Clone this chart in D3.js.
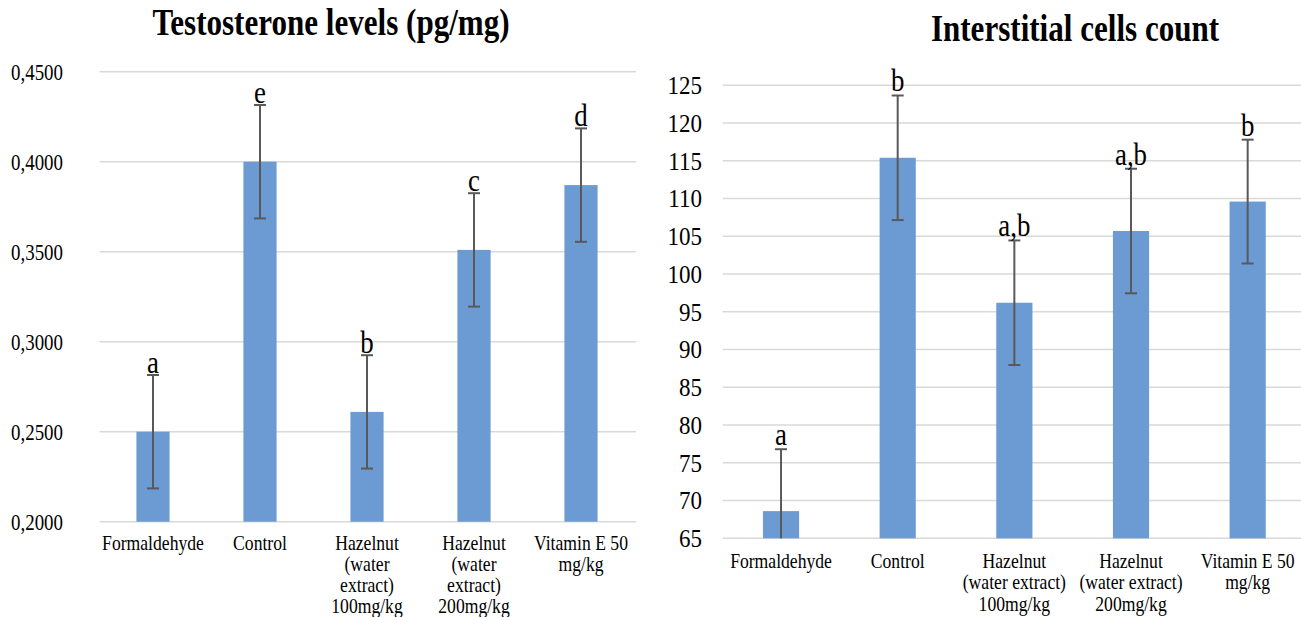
<!DOCTYPE html>
<html>
<head>
<meta charset="utf-8">
<script src="https://cdn.jsdelivr.net/npm/d3@7"></script>
<style>
  body { margin: 0; background: #fff; }
</style>
</head>
<body>
<div id="chart"></div>
<script>
// data
var groups = ["Formaldehyde", "Control", "Hazelnut (water extract) 100mg/kg", "Hazelnut (water extract) 200mg/kg", "Vitamin E 50 mg/kg"];

var testoLabels = [["Formaldehyde"], ["Control"], ["Hazelnut", "(water", "extract)", "100mg/kg"], ["Hazelnut", "(water", "extract)", "200mg/kg"], ["Vitamin E 50", "mg/kg"]];
var testoValues = [0.250, 0.400, 0.261, 0.351, 0.387];
var testoErrors = [0.0315, 0.0315, 0.0315, 0.0315, 0.0315];
var testoLetters = ["a", "e", "b", "c", "d"];
var testoTicks = [0.20, 0.25, 0.30, 0.35, 0.40, 0.45];

var cellLabels = [["Formaldehyde"], ["Control"], ["Hazelnut", "(water extract)", "100mg/kg"], ["Hazelnut", "(water extract)", "200mg/kg"], ["Vitamin E 50", "mg/kg"]];
var cellValues = [68.6, 115.4, 96.2, 105.7, 109.6];
var cellErrors = [8.2, 8.25, 8.25, 8.25, 8.2];
var cellLetters = ["a", "b", "a,b", "a,b", "b"];
var cellTicks = [65, 70, 75, 80, 85, 90, 95, 100, 105, 110, 115, 120, 125];

var width = 1301,
    height = 617;

// the text in the picture is a bit narrow, so squeeze it horizontally
var SX = 0.84;
var FONT = "'Liberation Serif', 'Times New Roman', serif";

var svg = d3.select("#chart").append("svg")
    .attr("width", width)
    .attr("height", height);

var fmtComma = function(d){ return d3.format(".4f")(d).replace(".", ","); };

function place(sel, fx, fy, sx) {
    sel.attr("transform", function(d, i){
        return "translate(" + fx(d, i) + "," + fy(d, i) + ") scale(" + sx + ",1)";
    })
    .attr("font-family", FONT)
    .attr("fill", "#000");
}

function drawChart(opt) {
    var g = svg.append("g");

    var x = d3.scaleBand()
        .domain(groups)
        .range([opt.x0, opt.x1])
        .paddingInner(0.69)
        .paddingOuter(0.345);

    var y = d3.scaleLinear()
        .domain(opt.domain)
        .range([opt.y0, opt.y1]);

    // gridlines
    g.selectAll(".grid")
        .data(opt.ticks)
        .enter().append("line")
        .attr("x1", opt.x0)
        .attr("x2", opt.gridEnd)
        .attr("y1", function(d){ return y(d); })
        .attr("y2", function(d){ return y(d); })
        .style("stroke", "#d9d9d9")
        .style("stroke-width", 1.6);

    // y tick labels
    g.selectAll(".ytick")
        .data(opt.ticks)
        .enter().append("text")
        .attr("dy", "0.35em")
        .attr("text-anchor", "end")
        .style("font-size", opt.tickSize + "px")
        .text(opt.tickFormat)
        .call(place, function(){ return opt.tickX; }, function(d){ return y(d); }, opt.tickSX || SX);

    var rows = groups.map(function(k, i){
        return { key: k, v: opt.values[i], e: opt.errors[i], letter: opt.letters[i], lab: opt.labels[i] };
    });

    // bars
    g.selectAll(".bar")
        .data(rows)
        .enter().append("rect")
        .attr("x", function(d){ return x(d.key); })
        .attr("width", x.bandwidth())
        .attr("y", function(d){ return y(d.v); })
        .attr("height", function(d){ return y(opt.domain[0]) - y(d.v); })
        .attr("fill", "#6b9bd2");

    // error bars
    var cx = function(d){ return x(d.key) + x.bandwidth() / 2; };
    var lo = function(d){ return y(Math.max(d.v - d.e, opt.domain[0])); };
    var hi = function(d){ return y(d.v + d.e); };

    g.selectAll(".err")
        .data(rows)
        .enter().append("line")
        .attr("x1", cx).attr("x2", cx)
        .attr("y1", lo).attr("y2", hi)
        .style("stroke", "#595959")
        .style("stroke-width", 2);

    g.selectAll(".capTop")
        .data(rows)
        .enter().append("line")
        .attr("x1", function(d){ return cx(d) - 6; })
        .attr("x2", function(d){ return cx(d) + 6; })
        .attr("y1", hi).attr("y2", hi)
        .style("stroke", "#595959")
        .style("stroke-width", 2);

    g.selectAll(".capBot")
        .data(rows.filter(function(d){ return d.v - d.e > opt.domain[0]; }))
        .enter().append("line")
        .attr("x1", function(d){ return cx(d) - 6; })
        .attr("x2", function(d){ return cx(d) + 6; })
        .attr("y1", lo).attr("y2", lo)
        .style("stroke", "#595959")
        .style("stroke-width", 2);

    // significance letters
    g.selectAll(".letter")
        .data(rows)
        .enter().append("text")
        .attr("text-anchor", "middle")
        .style("font-size", opt.letterSize + "px")
        .text(function(d){ return d.letter; })
        .call(place, cx, function(d){ return hi(d) - opt.letterGap; }, SX);

    // category labels
    var cat = g.selectAll(".cat")
        .data(rows)
        .enter().append("text")
        .attr("text-anchor", "middle")
        .style("font-size", opt.catSize + "px")
        .call(place, cx, function(){ return opt.catY; }, SX);

    cat.selectAll("tspan")
        .data(function(d){ return d.lab; })
        .enter().append("tspan")
        .attr("x", 0)
        .attr("y", function(d, i){ return i * opt.lineH; })
        .text(function(d){ return d; });

    // title
    g.append("text")
        .attr("text-anchor", "middle")
        .style("font-size", "37px")
        .style("font-weight", "bold")
        .text(opt.title)
        .call(place, function(){ return opt.titleX; }, function(){ return opt.titleY; }, SX);
}

drawChart({
    title: "Testosterone levels (pg/mg)",
    titleX: 331, titleY: 35,
    x0: 99.5, x1: 634.5, gridEnd: 636,
    y0: 521.7, y1: 71.7,
    domain: [0.20, 0.45],
    ticks: testoTicks,
    tickFormat: fmtComma,
    tickX: 63, tickSize: 22.5,
    values: testoValues, errors: testoErrors, letters: testoLetters, labels: testoLabels,
    letterSize: 32, letterGap: 2,
    catY: 550, catSize: 21, lineH: 21
});

drawChart({
    title: "Interstitial cells count",
    titleX: 1075, titleY: 41,
    x0: 722.7, x1: 1306, gridEnd: 1301,
    y0: 538.3, y1: 85.3,
    domain: [65, 125],
    ticks: cellTicks,
    tickFormat: function(d){ return d; },
    tickX: 702, tickSize: 25, tickSX: 0.92,
    values: cellValues, errors: cellErrors, letters: cellLetters, labels: cellLabels,
    letterSize: 32, letterGap: 4,
    catY: 568, catSize: 21, lineH: 21.5
});
</script>
</body>
</html>
